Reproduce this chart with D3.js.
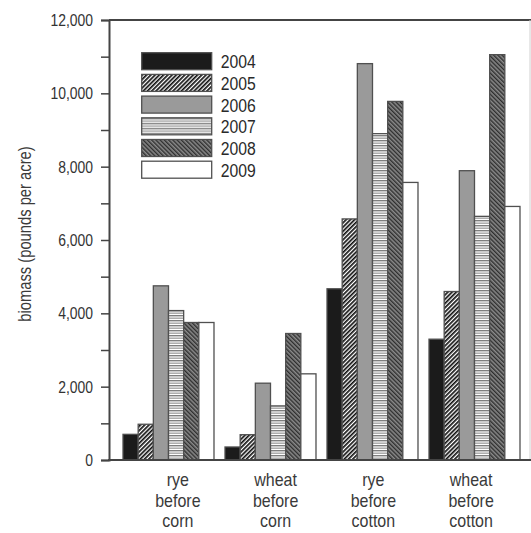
<!DOCTYPE html>
<html>
<head>
<meta charset="utf-8">
<script src="https://cdn.jsdelivr.net/npm/d3@7"></script>
<style>
  html, body { margin: 0; padding: 0; background: #fff; }
  svg { display: block; font-family: 'Liberation Sans', Arial, sans-serif; }
</style>
</head>
<body>
<svg id="chart" width="531" height="533"></svg>
<script>
// ---- data ----
const categories = ["rye before corn", "wheat before corn", "rye before cotton", "wheat before cotton"];
const years = ["2004", "2005", "2006", "2007", "2008", "2009"];
const v2004 = [700, 355, 4670, 3295];
const v2005 = [975, 690, 6575, 4595];
const v2006 = [4750, 2095, 10810, 7890];
const v2007 = [4075, 1475, 8900, 6645];
const v2008 = [3750, 3450, 9780, 11055];
const v2009 = [3750, 2350, 7570, 6915];
const yTickValues = [0, 1000, 2000, 3000, 4000, 5000, 6000, 7000, 8000, 9000, 10000, 11000, 12000];
const yLabel = "biomass (pounds per acre)";

const seriesValues = [v2004, v2005, v2006, v2007, v2008, v2009];
const SX = 0.82;   // horizontal condensing (narrow look)
const SXC = 0.87;  // condensing for category labels

const svg = d3.select("#chart");
const defs = svg.append("defs");

// patterns
function stripePattern(id, angle, size, lineW, lineColor, bg) {
  const p = defs.append("pattern")
    .attr("id", id).attr("patternUnits", "userSpaceOnUse")
    .attr("width", size).attr("height", size)
    .attr("patternTransform", `rotate(${angle})`);
  p.append("rect").attr("width", size).attr("height", size).attr("fill", bg);
  p.append("rect").attr("x", 0).attr("y", 0).attr("width", lineW).attr("height", size).attr("fill", lineColor);
}
stripePattern("p2005", 45, 3.0, 1.7, "#111", "#fff");
stripePattern("p2008", -45, 3.0, 1.4, "#2e2e2e", "#8a8a8a");
(function () {
  const p = defs.append("pattern").attr("id", "p2007").attr("patternUnits", "userSpaceOnUse")
    .attr("width", 6).attr("height", 5);
  p.append("rect").attr("width", 6).attr("height", 5).attr("fill", "#fff");
  p.append("rect").attr("y", 0).attr("width", 6).attr("height", 1.4).attr("fill", "#7e7e7e");
  p.append("rect").attr("y", 2.5).attr("width", 6).attr("height", 1.4).attr("fill", "#a4a4a4");
})();

const fills = ["#1b1b1b", "url(#p2005)", "#9a9a9a", "url(#p2007)", "url(#p2008)", "#ffffff"];

// scales
const x0 = d3.scaleBand().domain(categories).range([112.5, 530.5]).paddingInner(0.108).paddingOuter(0.103);
const x1 = d3.scaleBand().domain(years).range([0, x0.bandwidth()]);
const y = d3.scaleLinear().domain([0, 12000]).range([460, 20]);
const xLabel = d3.scaleBand().domain(categories).range([129, 520]);
const color = d3.scaleOrdinal().domain(years).range(fills);

// frame
svg.append("line").attr("x1", 109).attr("x2", 531).attr("y1", y(12000)).attr("y2", y(12000))
  .attr("stroke", "#444").attr("stroke-width", 2);
svg.append("line").attr("x1", 530).attr("x2", 530).attr("y1", y(12000)).attr("y2", y(0))
  .attr("stroke", "#d0d0d0").attr("stroke-width", 1);

// bars
const groups = svg.append("g").selectAll("g")
  .data(categories).join("g")
  .attr("transform", d => `translate(${x0(d)},0)`);

groups.selectAll("rect")
  .data((c, ci) => years.map((yr, si) => ({ year: yr, value: seriesValues[si][ci] })))
  .join("rect")
  .attr("x", d => x1(d.year))
  .attr("width", x1.bandwidth())
  .attr("y", d => y(d.value))
  .attr("height", d => y(0) - y(d.value))
  .attr("fill", d => color(d.year))
  .attr("stroke", "#505050")
  .attr("stroke-width", 1.3);

// y axis
const yAxis = d3.axisLeft(y)
  .tickValues(yTickValues)
  .tickSize(8)
  .tickPadding(8)
  .tickFormat(d => d % 2000 === 0 ? d3.format(",")(d) : "");
const gy = svg.append("g").attr("transform", "translate(109,0)").call(yAxis);
gy.select(".domain").attr("stroke", "#444").attr("stroke-width", 2);
gy.selectAll(".tick line").attr("stroke", "#444").attr("stroke-width", 1.5);
gy.selectAll(".tick text").attr("fill", "#333").style("font-size", "17px")
  .style("font-family", "'Liberation Sans', Arial, sans-serif")
  .attr("x", -16 / SX)
  .attr("transform", `scale(${SX},1)`);

// x axis baseline
svg.append("line").attr("x1", 108).attr("x2", 531).attr("y1", y(0)).attr("y2", y(0))
  .attr("stroke", "#444").attr("stroke-width", 2);

// category labels (one text per line)
const lineData = categories.flatMap(c => c.split(" ").map((w, i) => ({ w, i, parent: c })));
svg.append("g").attr("transform", `scale(${SXC},1)`).selectAll("text")
  .data(lineData).join("text")
  .attr("text-anchor", "middle")
  .attr("fill", "#3a3a3a")
  .style("font-size", "18.4px")
  .attr("x", d => (xLabel(d.parent) + xLabel.bandwidth() / 2) / SXC)
  .attr("y", d => 486 + d.i * 20.7)
  .text(d => d.w);

// y label
svg.append("text")
  .attr("transform", `translate(31,234) rotate(-90) scale(${SX},1)`)
  .attr("text-anchor", "middle")
  .attr("fill", "#3a3a3a")
  .style("font-size", "18px")
  .text(yLabel);

// legend
const legend = svg.append("g").selectAll("g")
  .data(years).join("g")
  .attr("transform", (d, i) => `translate(141.7,${52.7 + i * 21.7})`);
legend.append("rect")
  .attr("width", 70).attr("height", 17)
  .attr("fill", d => color(d))
  .attr("stroke", "#505050").attr("stroke-width", 1.3);
legend.append("text")
  .attr("x", 79 / SX).attr("y", 15.4)
  .attr("transform", `scale(${SX},1)`)
  .attr("fill", "#2a2a2a")
  .style("font-size", "19.2px")
  .text(d => d);
</script>
</body>
</html>
